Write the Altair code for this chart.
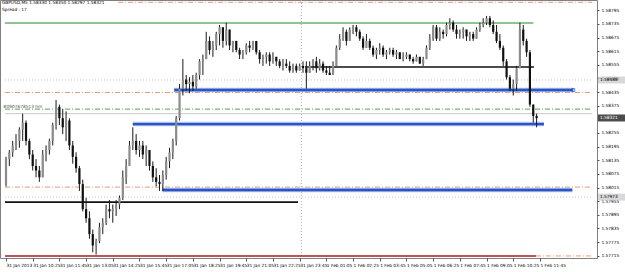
import altair as alt
import pandas as pd

# ---- 10-minute OHLC bars (GBPUSD, 31 Jan 2013 09:05 -> 1 Feb 2013 11:45) ----
opens = [
    1.5803, 1.5814, 1.5817, 1.5820, 1.5822, 1.5827, 1.5830, 1.5822, 1.5816, 1.5811,
    1.5809, 1.5806, 1.5816, 1.5818, 1.5822, 1.5829, 1.5837, 1.5832, 1.5828, 1.5831,
    1.5820, 1.5815, 1.5810, 1.5803, 1.5792, 1.5788, 1.5781, 1.5776, 1.5778, 1.5784,
    1.5786, 1.5792, 1.5791, 1.5792, 1.5794, 1.5797, 1.5806, 1.5811, 1.5820, 1.5822,
    1.5818, 1.5820, 1.5816, 1.5818, 1.5811, 1.5806, 1.5804, 1.5803, 1.5807, 1.5813,
    1.5817, 1.5822, 1.5832, 1.5845, 1.5849, 1.5847, 1.5848, 1.5846, 1.5851, 1.5857,
    1.5858, 1.5866, 1.5862, 1.5864, 1.5869, 1.5872, 1.5866, 1.5871, 1.5864, 1.5866,
    1.5862, 1.5860, 1.5861, 1.5864, 1.5863, 1.5866, 1.5861, 1.5858, 1.5859, 1.5860,
    1.5857, 1.5859, 1.5857, 1.5855, 1.5856, 1.5855, 1.5853, 1.5855, 1.5853, 1.5855,
    1.5854, 1.5852, 1.5855, 1.5857, 1.5854, 1.5856, 1.5853, 1.5852, 1.5851, 1.5855,
    1.5863, 1.5867, 1.5870, 1.5866, 1.5871, 1.5872, 1.5870, 1.5867, 1.5863, 1.5866,
    1.5863, 1.5860, 1.5862, 1.5863, 1.5860, 1.5861, 1.5862, 1.5860, 1.5861, 1.5858,
    1.5859, 1.5860, 1.5858, 1.5857, 1.5859, 1.5856, 1.5858, 1.5863, 1.5867, 1.5872,
    1.5867, 1.5870, 1.5869, 1.5873, 1.5874, 1.5871, 1.5869, 1.5870, 1.5871, 1.5868,
    1.5869, 1.5867, 1.5871, 1.5873, 1.5874, 1.5876, 1.5873, 1.5870, 1.5866, 1.5863,
    1.5857, 1.5850, 1.5845, 1.5847, 1.5854, 1.5871, 1.5866, 1.5861, 1.5838, 1.5833,
]
highs = [
    1.5815, 1.5818, 1.5822, 1.5825, 1.5828, 1.5834, 1.5831, 1.5823, 1.5818, 1.5814,
    1.5811, 1.5818, 1.5820, 1.5823, 1.5830, 1.5840, 1.5838, 1.5836, 1.5835, 1.5832,
    1.5822, 1.5817, 1.5811, 1.5805, 1.5797, 1.5791, 1.5783, 1.5779, 1.5786, 1.5788,
    1.5794, 1.5796, 1.5794, 1.5796, 1.5798, 1.5809, 1.5814, 1.5822, 1.5828, 1.5825,
    1.5822, 1.5822, 1.5820, 1.5818, 1.5813, 1.5810, 1.5807, 1.5809, 1.5815, 1.5819,
    1.5823, 1.5833, 1.5847, 1.5858, 1.5851, 1.5850, 1.5851, 1.5852, 1.5858, 1.5860,
    1.5870, 1.5868, 1.5866, 1.5870, 1.5873, 1.5872, 1.5874, 1.5871, 1.5866, 1.5866,
    1.5863, 1.5862, 1.5865, 1.5866, 1.5866, 1.5866, 1.5862, 1.5860, 1.5861, 1.5861,
    1.5861, 1.5859, 1.5858, 1.5858, 1.5858, 1.5857, 1.5856, 1.5856, 1.5856, 1.5857,
    1.5857, 1.5857, 1.5858, 1.5859, 1.5858, 1.5857, 1.5855, 1.5855, 1.5857, 1.5864,
    1.5869, 1.5872, 1.5871, 1.5872, 1.5873, 1.5873, 1.5871, 1.5868, 1.5869, 1.5867,
    1.5864, 1.5863, 1.5865, 1.5864, 1.5862, 1.5863, 1.5863, 1.5862, 1.5861, 1.5861,
    1.5861, 1.5860, 1.5859, 1.5860, 1.5859, 1.5859, 1.5864, 1.5869, 1.5873, 1.5873,
    1.5872, 1.5871, 1.5874, 1.5876, 1.5875, 1.5873, 1.5871, 1.5872, 1.5871, 1.5870,
    1.5870, 1.5872, 1.5874, 1.5876, 1.5877, 1.5877, 1.5875, 1.5873, 1.5869, 1.5864,
    1.5858, 1.5851, 1.5849, 1.5855, 1.5874, 1.5873, 1.5867, 1.5862, 1.5838, 1.5834,
]
lows = [
    1.5802, 1.5811, 1.5815, 1.5818, 1.5819, 1.5822, 1.5820, 1.5814, 1.5809, 1.5806,
    1.5804, 1.5806, 1.5813, 1.5816, 1.5820, 1.5827, 1.5829, 1.5825, 1.5822, 1.5818,
    1.5812, 1.5808, 1.5800, 1.5791, 1.5786, 1.5779, 1.5773, 1.5772, 1.5777, 1.5781,
    1.5785, 1.5788, 1.5786, 1.5789, 1.5792, 1.5796, 1.5803, 1.5811, 1.5818, 1.5816,
    1.5815, 1.5814, 1.5811, 1.5809, 1.5804, 1.5802, 1.5800, 1.5800, 1.5805, 1.5810,
    1.5814, 1.5820, 1.5831, 1.5842, 1.5844, 1.5843, 1.5844, 1.5845, 1.5849, 1.5851,
    1.5858, 1.5860, 1.5859, 1.5862, 1.5864, 1.5863, 1.5864, 1.5862, 1.5861, 1.5861,
    1.5858, 1.5858, 1.5860, 1.5861, 1.5862, 1.5860, 1.5856, 1.5855, 1.5856, 1.5855,
    1.5856, 1.5855, 1.5854, 1.5853, 1.5854, 1.5852, 1.5852, 1.5852, 1.5853, 1.5852,
    1.5845, 1.5852, 1.5853, 1.5852, 1.5853, 1.5852, 1.5851, 1.5851, 1.5851, 1.5855,
    1.5862, 1.5866, 1.5864, 1.5866, 1.5869, 1.5868, 1.5866, 1.5862, 1.5863, 1.5862,
    1.5859, 1.5858, 1.5860, 1.5859, 1.5858, 1.5860, 1.5859, 1.5858, 1.5858, 1.5857,
    1.5858, 1.5857, 1.5856, 1.5857, 1.5856, 1.5855, 1.5858, 1.5862, 1.5866, 1.5866,
    1.5866, 1.5867, 1.5868, 1.5871, 1.5870, 1.5867, 1.5867, 1.5867, 1.5866, 1.5866,
    1.5866, 1.5867, 1.5870, 1.5872, 1.5873, 1.5872, 1.5869, 1.5865, 1.5862, 1.5855,
    1.5849, 1.5844, 1.5842, 1.5844, 1.5854, 1.5864, 1.5859, 1.5837, 1.5830, 1.5828,
]
closes = [
    1.5814, 1.5817, 1.5820, 1.5822, 1.5827, 1.5830, 1.5822, 1.5816, 1.5811, 1.5809,
    1.5806, 1.5816, 1.5818, 1.5822, 1.5829, 1.5837, 1.5832, 1.5828, 1.5831, 1.5820,
    1.5815, 1.5810, 1.5803, 1.5792, 1.5788, 1.5781, 1.5776, 1.5778, 1.5784, 1.5786,
    1.5792, 1.5791, 1.5792, 1.5794, 1.5797, 1.5806, 1.5811, 1.5820, 1.5822, 1.5818,
    1.5820, 1.5816, 1.5818, 1.5811, 1.5806, 1.5804, 1.5803, 1.5807, 1.5813, 1.5817,
    1.5822, 1.5832, 1.5845, 1.5849, 1.5847, 1.5848, 1.5846, 1.5851, 1.5857, 1.5858,
    1.5866, 1.5862, 1.5864, 1.5869, 1.5872, 1.5866, 1.5871, 1.5864, 1.5866, 1.5862,
    1.5860, 1.5861, 1.5864, 1.5863, 1.5866, 1.5861, 1.5858, 1.5859, 1.5860, 1.5857,
    1.5859, 1.5857, 1.5855, 1.5856, 1.5855, 1.5853, 1.5855, 1.5853, 1.5855, 1.5854,
    1.5852, 1.5855, 1.5857, 1.5854, 1.5856, 1.5853, 1.5852, 1.5851, 1.5855, 1.5863,
    1.5867, 1.5870, 1.5866, 1.5871, 1.5872, 1.5870, 1.5867, 1.5863, 1.5866, 1.5863,
    1.5860, 1.5862, 1.5863, 1.5860, 1.5861, 1.5862, 1.5860, 1.5861, 1.5858, 1.5859,
    1.5860, 1.5858, 1.5857, 1.5859, 1.5856, 1.5858, 1.5863, 1.5867, 1.5872, 1.5867,
    1.5870, 1.5869, 1.5873, 1.5874, 1.5871, 1.5869, 1.5870, 1.5871, 1.5868, 1.5869,
    1.5867, 1.5871, 1.5873, 1.5874, 1.5876, 1.5873, 1.5870, 1.5866, 1.5863, 1.5857,
    1.5850, 1.5845, 1.5847, 1.5854, 1.5871, 1.5866, 1.5861, 1.5838, 1.5833, 1.5832,
]

# ---- axis ticks / labels ----
time_ticks = [0, 80, 160, 240, 320, 400, 480, 560, 640, 720, 800,
              880, 960, 1040, 1120, 1200, 1280, 1360, 1440, 1520, 1600]
time_labels = ["31 Jan 2013", "31 Jan 10:25", "31 Jan 11:45", "31 Jan 13:05",
               "31 Jan 14:25", "31 Jan 15:45", "31 Jan 17:05", "31 Jan 18:25",
               "31 Jan 19:45", "31 Jan 21:05", "31 Jan 22:25", "31 Jan 23:45",
               "1 Feb 01:05", "1 Feb 02:25", "1 Feb 03:45", "1 Feb 05:05",
               "1 Feb 06:25", "1 Feb 07:45", "1 Feb 09:05", "1 Feb 10:25",
               "1 Feb 11:45"]
# the 1.58315 label sits under the current-price box
price_ticks = [1.58795, 1.58735, 1.58675, 1.58615, 1.58555, 1.58495, 1.58435,
               1.58375, 1.58255, 1.58195, 1.58135, 1.58075, 1.58015,
               1.57955, 1.57895, 1.57835, 1.57775, 1.57715]

header_line1 = "GBPUSD,M5  1.58330 1.58350 1.58297 1.58321"
header_line2 = "Spread : 17"
object_label = "#0907678513 hm"

# ---- drawn objects (price, start, end in minutes from first bar) ----
solid_lines = pd.DataFrame({
    "price": [1.58739, 1.58545, 1.57951, 1.57714],
    "t0": [-3, 896, -3, -3],
    "t1": [1580, 1582, 875, 1588],
    "kind": ["green", "black", "black", "red"],
})
blue_lines = pd.DataFrame({
    "price": [1.58444, 1.58294, 1.58004],
    "t0": [504, 380, 469],
    "t1": [1700, 1612, 1697],
})
orange_dd = pd.DataFrame({
    "price": [1.58830, 1.58433, 1.58017, 1.57714],
    "t0": [336, -3, -3, 1588],
    "t1": [1756, 1756, 1756, 1756],
})
green_dd = pd.DataFrame({"price": [1.58360], "t0": [-3], "t1": [1756]})
dotted = pd.DataFrame({"price": [1.58488, 1.57973], "t0": [-3, -3], "t1": [1756, 1756]})
bid_line = pd.DataFrame({"price": [1.58340], "t0": [-3], "t1": [1756]})
separator = pd.DataFrame({"t": [885]})
axis_boxes = pd.DataFrame({
    "price": [1.58488, 1.57973, 1.58321],
    "kind": ["line", "line", "bid"],
})

n = len(opens)
candles = pd.DataFrame({
    "t": [10 * i for i in range(n)],
    "open": opens, "high": highs, "low": lows, "close": closes,
})
candles["dir"] = ["up" if c >= o else "down" for o, c in zip(opens, closes)]

W, H = 597, 258
FONT = "DejaVu Sans"
xs = alt.Scale(domain=[-3, 1756], nice=False, zero=False)
ys = alt.Scale(domain=[1.57705, 1.58840], nice=False, zero=False)

label_arr = "[" + ",".join("'" + s + "'" for s in time_labels) + "]"
xaxis = alt.Axis(values=time_ticks, labelExpr=label_arr + "[round(datum.value/80)]",
                 labelAlign="left", labelBaseline="top", labelFontSize=4.3,
                 labelFont=FONT, labelPadding=2, tickSize=3, tickColor="#555",
                 domain=False, grid=False, title=None, labelOverlap=False,
                 labelBound=False, labelFlush=False, labelColor="#000")
yaxis = alt.Axis(orient="right", values=price_ticks, format=".5f",
                 labelFontSize=4.3, labelFont=FONT, labelPadding=2, tickSize=2,
                 tickColor="#555", domain=False, grid=False, title=None,
                 labelOverlap=False, labelBound=False, labelColor="#000")


def X(f):
    return alt.X(f, type="quantitative", scale=xs, axis=xaxis)


def Y(f):
    return alt.Y(f, type="quantitative", scale=ys, axis=yaxis)


dd = [5, 2, 1, 2]

l_dotted = alt.Chart(dotted).mark_rule(color="#c4c4c4", strokeDash=[1, 2], strokeWidth=1).encode(
    x=X("t0"), x2="t1", y=Y("price"))
l_sep = alt.Chart(separator).mark_rule(color="#b0b0b0", strokeDash=[1, 2], strokeWidth=1).encode(
    x=X("t"), y=alt.value(0), y2=alt.value(H))
l_bid = alt.Chart(bid_line).mark_rule(color="#c8c8c8", strokeWidth=1).encode(
    x=X("t0"), x2="t1", y=Y("price"))
l_orange = alt.Chart(orange_dd).mark_rule(color="#e49a78", strokeDash=dd, strokeWidth=1).encode(
    x=X("t0"), x2="t1", y=Y("price"))
l_green_dd = alt.Chart(green_dd).mark_rule(color="#55a055", strokeDash=dd, strokeWidth=1).encode(
    x=X("t0"), x2="t1", y=Y("price"))
l_solid = alt.Chart(solid_lines).mark_rule(strokeWidth=1.6).encode(
    x=X("t0"), x2="t1", y=Y("price"),
    color=alt.Color("kind:N", scale=alt.Scale(domain=["green", "black", "red"],
                                              range=["#6cae6c", "#111111", "#a81c1c"]),
                    legend=None))
l_blue_halo = alt.Chart(blue_lines).mark_rule(strokeWidth=4.5, color="#a9c0ee").encode(
    x=X("t0"), x2="t1", y=Y("price"))
l_blue = alt.Chart(blue_lines).mark_rule(strokeWidth=2.4, color="#2c54c4").encode(
    x=X("t0"), x2="t1", y=Y("price"))
l_blue_end = alt.Chart(blue_lines.iloc[[0]]).mark_square(size=9, filled=False, color="#2c54c4",
                                                          strokeWidth=1).encode(
    x=X("t1"), y=Y("price"))

l_wick = alt.Chart(candles).mark_rule(color="#1a1a1a", strokeWidth=1).encode(
    x=X("t"), y=Y("low"), y2="high")
l_body = alt.Chart(candles).mark_bar(size=2.2).encode(
    x=X("t"), y=Y("open"), y2="close",
    color=alt.Color("dir:N", scale=alt.Scale(domain=["up", "down"],
                                             range=["#8c8c8c", "#111111"]), legend=None))

l_h1 = alt.Chart(pd.DataFrame({"s": [header_line1]})).mark_text(
    align="left", baseline="middle", fontSize=4.3, font=FONT, color="#000").encode(
    text="s:N", x=alt.value(2), y=alt.value(3))
l_h2 = alt.Chart(pd.DataFrame({"s": [header_line2]})).mark_text(
    align="left", baseline="middle", fontSize=4.3, font=FONT, color="#000").encode(
    text="s:N", x=alt.value(2), y=alt.value(9.5))
l_obj = alt.Chart(pd.DataFrame({"s": [object_label]})).mark_text(
    align="left", baseline="middle", fontSize=4.3, font=FONT, color="#555").encode(
    text="s:N", x=alt.value(3), y=alt.value(106.5))

l_box = alt.Chart(axis_boxes).mark_tick(orient="horizontal", thickness=7, size=27).encode(
    y=Y("price"), x=alt.value(611.5),
    color=alt.Color("kind:N", scale=alt.Scale(domain=["line", "bid"],
                                              range=["#c8c8c8", "#000000"]), legend=None))
l_box_txt = alt.Chart(axis_boxes).mark_text(align="left", baseline="middle", fontSize=4.3,
                                            font=FONT).encode(
    y=Y("price"), x=alt.value(600),
    text=alt.Text("price:Q", format=".5f"),
    color=alt.Color("kind:N", scale=alt.Scale(domain=["line", "bid"],
                                              range=["#000000", "#ffffff"]), legend=None))

chart = alt.layer(
    l_dotted, l_sep, l_bid, l_orange, l_green_dd, l_solid, l_blue_halo, l_blue,
    l_blue_end, l_wick, l_body, l_h1, l_h2, l_obj, l_box, l_box_txt,
).resolve_scale(color="independent").properties(
    width=W, height=H,
    autosize=alt.AutoSizeParams(type="none"),
    padding={"left": 0, "top": 0, "right": 28, "bottom": 14},
    background="white",
).configure_view(stroke="#808080", strokeWidth=1)

chart.save("out.html", embed_options={"renderer": "svg", "actions": False})
